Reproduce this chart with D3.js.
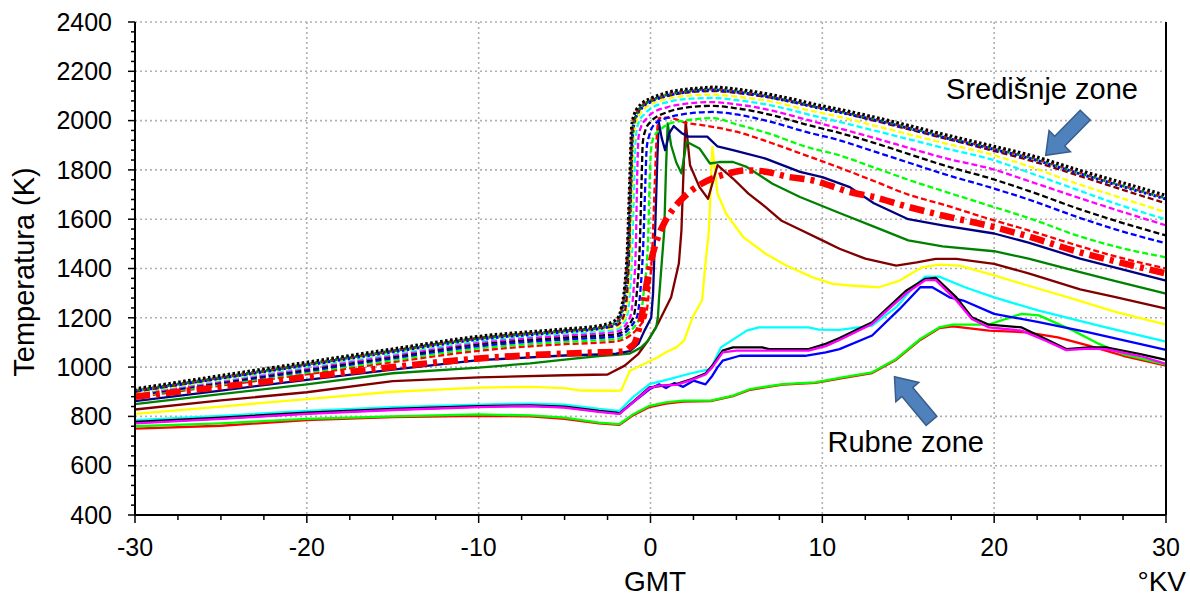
<!DOCTYPE html>
<html><head><meta charset="utf-8">
<script src="https://cdn.jsdelivr.net/npm/d3@7"></script>
<style>body{margin:0;background:#fff}svg{display:block}text{font-family:Arial,"Liberation Sans",sans-serif}</style>
</head><body><svg id="c" width="1190" height="596"></svg>
<script>
const xTicks=[-30,-20,-10,0,10,20,30];
const yTicks=[400,600,800,1000,1200,1400,1600,1800,2000,2200,2400];
const xLabel="GMT", xUnit="°KV", yLabel="Temperatura (K)";
const labelCentral="Središnje zone", labelEdge="Rubne zone";

// Central zones – dotted
const dotBlack=[[-30,912],[-25,966],[-20,1020],[-15,1074],[-10,1125],[-5,1155],[-3,1168],[-2,1192],[-1.7,1240],[-1.5,1330],[-1.35,1480],[-1.2,1780],[-1.1,1975],[-0.95,2025],[-0.5,2070],[0,2090],[0.5,2104],[1,2115],[2,2127],[3,2133],[3.6,2136],[5,2128],[6.7,2110],[8,2092],[10,2060],[11,2046],[13,2015],[15,1981],[17,1946],[20,1896],[22,1862],[25,1798],[27,1758],[30,1697]];
const dotRed=[[-30,908],[-25,962],[-20,1016],[-15,1070],[-10,1121],[-5,1151],[-3,1164],[-2,1186],[-1.7,1230],[-1.5,1310],[-1.35,1450],[-1.2,1730],[-1.1,1950],[-0.95,2015],[-0.5,2064],[0,2085],[1,2110],[2,2123],[3.6,2132],[5,2124],[6.7,2106],[8,2088],[10,2056],[11,2042],[13,2011],[15,1977],[17,1941],[20,1891],[22,1857],[25,1792],[27,1751],[30,1690]];
const dotGreen=[[-30,905],[-25,958],[-20,1012],[-15,1066],[-10,1117],[-5,1147],[-3,1160],[-2,1180],[-1.7,1222],[-1.5,1295],[-1.3,1470],[-1.15,1760],[-1.05,1950],[-0.9,2010],[-0.5,2058],[0,2080],[1,2106],[2,2119],[3.6,2128],[5,2120],[6.7,2102],[8,2084],[10,2052],[11,2038],[13,2007],[15,1973],[17,1937],[20,1887],[22,1852],[25,1788],[27,1746],[30,1686]];
const dotBlue=[[-30,903],[-25,955],[-20,1008],[-15,1062],[-10,1113],[-5,1143],[-3,1156],[-2,1175],[-1.7,1215],[-1.5,1280],[-1.3,1440],[-1.15,1720],[-1.05,1935],[-0.9,2003],[-0.5,2052],[0,2076],[1,2102],[2,2115],[3.6,2124],[5,2116],[6.7,2098],[8,2080],[10,2048],[11,2034],[13,2003],[15,1969],[17,1933],[20,1883],[22,1848],[25,1784],[27,1742],[30,1682]];

// Central zones – dashed
const dashMaroon=[[-30,900],[-25,955],[-20,1010],[-15,1066],[-10,1118],[-5,1148],[-3,1158],[-2,1168],[-1.6,1200],[-1.4,1270],[-1.25,1450],[-1.15,1700],[-1.05,1960],[-0.9,2010],[-0.5,2055],[0,2078],[1,2100],[2,2113],[3.6,2120],[5,2112],[7,2093],[9,2064],[11,2035],[13,2000],[15,1965],[17,1930],[20,1877],[22,1840],[25,1775],[27,1730],[30,1664]];
const dashYellow=[[-30,897],[-25,951],[-20,1006],[-15,1060],[-10,1112],[-5,1142],[-3,1152],[-2,1160],[-1.5,1200],[-1.3,1290],[-1.15,1480],[-1.05,1750],[-0.95,1950],[-0.8,2000],[-0.4,2045],[0,2065],[1,2088],[2,2100],[3.6,2105],[5,2097],[7,2078],[9,2045],[11,2015],[13,1980],[15,1945],[17,1910],[20,1859],[22,1815],[25,1740],[27,1695],[30,1628]];
const dashCyan=[[-30,894],[-25,947],[-20,1001],[-15,1054],[-10,1106],[-5,1136],[-3,1145],[-2,1152],[-1.4,1200],[-1.2,1300],[-1.05,1500],[-0.95,1760],[-0.85,1940],[-0.7,1990],[-0.3,2030],[0,2048],[1,2075],[2,2087],[3.6,2092],[5,2083],[7,2062],[9,2028],[11,1995],[13,1960],[15,1925],[17,1890],[20,1839],[22,1790],[25,1715],[27,1665],[30,1599]];
const dashMagenta=[[-30,891],[-25,943],[-20,996],[-15,1048],[-10,1100],[-5,1128],[-3,1137],[-2,1143],[-1.2,1200],[-1.0,1300],[-0.85,1500],[-0.78,1760],[-0.7,1930],[-0.55,1975],[-0.2,2010],[0,2025],[1,2055],[2,2068],[3.6,2075],[5,2066],[7,2042],[9,2005],[11,1968],[13,1930],[15,1890],[17,1850],[20,1801],[22,1755],[25,1685],[27,1640],[30,1575]];
const dashBlack=[[-30,888],[-25,939],[-20,990],[-15,1042],[-10,1093],[-5,1120],[-3,1128],[-2,1133],[-1.0,1200],[-0.8,1300],[-0.62,1500],[-0.52,1750],[-0.45,1910],[-0.3,1960],[0,1995],[1,2035],[2,2052],[3.6,2060],[5,2050],[7,2023],[9,1985],[11,1950],[13,1910],[15,1865],[17,1820],[20,1761],[22,1715],[25,1640],[27,1595],[30,1534]];
const dashBlue=[[-30,885],[-25,935],[-20,984],[-15,1036],[-10,1085],[-5,1112],[-3,1119],[-2,1124],[-0.8,1200],[-0.6,1300],[-0.42,1500],[-0.3,1750],[-0.22,1890],[-0.05,1945],[0.3,1990],[1,2012],[2,2027],[3.6,2035],[5,2025],[7,1995],[9,1955],[11,1920],[13,1875],[15,1830],[17,1785],[20,1724],[22,1680],[25,1605],[27,1560],[30,1502]];
const dashGreen=[[-30,882],[-25,930],[-20,978],[-15,1028],[-10,1076],[-5,1102],[-3,1109],[-2,1113],[-0.6,1200],[-0.4,1300],[-0.15,1500],[-0.05,1750],[0.03,1880],[0.2,1935],[0.6,1965],[1,1985],[2,2000],[3.6,2010],[5,1985],[7,1945],[9,1895],[11,1859],[13,1810],[15,1760],[17,1715],[20,1649],[22,1605],[25,1530],[27,1490],[30,1445]];
const dashRed=[[-30,878],[-25,925],[-20,971],[-15,1020],[-10,1066],[-5,1093],[-3,1099],[-2,1104],[-0.3,1200],[-0.1,1300],[0.12,1500],[0.25,1750],[0.35,1920],[0.5,2010],[1,2012],[1.5,2005],[2,1992],[3,1982],[3.6,1975],[5,1955],[7,1910],[9,1860],[11,1809],[13,1755],[15,1700],[17,1660],[20,1595],[22,1555],[25,1490],[27,1450],[30,1400]];

// thick red dash-dot
const thickRed=[[-30,880],[-25,920],[-20,960],[-15,1000],[-10,1035],[-5,1055],[-3,1060],[-2,1062],[-1.5,1065],[-1.2,1080],[-0.9,1100],[-0.7,1148],[-0.5,1210],[-0.35,1283],[0,1420],[0.45,1530],[0.8,1585],[1.2,1630],[1.6,1665],[2.4,1717],[3,1745],[3.6,1765],[4.5,1785],[5.5,1798],[6.5,1795],[8,1772],[9.4,1758],[10.5,1735],[11.5,1712],[13,1690],[15,1650],[17,1615],[20,1568],[22,1530],[25,1465],[27,1430],[30,1380]];

// solid inner lines
const solidNavy=[[-30,862],[-25,905],[-20,948],[-15,990],[-10,1028],[-5,1047],[-3,1052],[-2,1055],[-1.2,1065],[-0.7,1095],[-0.35,1148],[0.04,1200],[0.15,1300],[0.27,1554],[0.4,1850],[0.48,1995],[0.65,1930],[0.85,1880],[1.1,1950],[1.35,1978],[1.8,1950],[2.2,1935],[3.3,1935],[3.9,1895],[4.8,1880],[6.7,1846],[8.7,1792],[10,1771],[11.6,1730],[13,1665],[15,1600],[17,1575],[20,1542],[22,1505],[25,1440],[27,1405],[30,1351]];
const solidGreen=[[-30,850],[-25,890],[-20,930],[-15,975],[-10,998],[-7,1015],[-5,1030],[-3,1045],[-2,1050],[-1.2,1055],[-0.54,1080],[-0.15,1107],[0.33,1161],[0.43,1202],[0.5,1283],[0.65,1420],[0.8,1554],[0.9,1800],[1.0,1989],[1.2,1900],[1.5,1830],[1.8,1786],[2.1,1914],[2.85,1887],[3.46,1826],[4.0,1832],[4.8,1832],[5.6,1812],[7.1,1744],[8.7,1690],[11,1625],[13,1570],[15,1514],[17,1490],[20,1470],[22,1440],[25,1385],[27,1350],[30,1298]];
const solidMaroon=[[-30,828],[-25,865],[-20,898],[-15,943],[-10,958],[-5,967],[-2.5,970],[-1.5,1006],[-0.7,1054],[-0.15,1107],[0.43,1176],[1.2,1283],[1.65,1420],[1.8,1554],[1.95,1850],[2.05,1995],[2.3,1819],[2.85,1730],[3.35,1683],[3.9,1819],[4.8,1765],[5.7,1704],[6.7,1649],[7.6,1595],[8.6,1561],[10,1514],[11,1480],[12.5,1440],[14.3,1412],[15.5,1425],[16.6,1439],[17.8,1439],[20,1419],[22,1380],[25,1315],[27,1285],[30,1237]];
const solidYellow=[[-30,810],[-25,840],[-20,870],[-15,900],[-10,917],[-7,920],[-5,915],[-4,905],[-2,904],[-1.7,906],[-1.2,985],[0.43,1040],[0.9,1060],[1.5,1080],[1.95,1107],[2.45,1202],[3.0,1270],[3.2,1420],[3.4,1554],[3.6,1893],[3.9,1704],[4.4,1622],[5.4,1527],[6.7,1460],[7.9,1412],[9.4,1365],[10.6,1338],[11.6,1331],[13.3,1324],[14.5,1351],[15.8,1405],[16.8,1416],[18,1412],[20,1372],[22,1330],[24.6,1277],[27,1225],[30,1172]];

// edge zones
const edgeCyan=[[-30,785],[-25,802],[-20,822],[-15,838],[-10,848],[-7,852],[-5,848],[-3,830],[-2,823],[-1.8,823],[-1.03,877],[-0.06,931],[1.1,951],[2.2,972],[3.2,988],[3.5,992],[4.1,1080],[5.6,1148],[6.3,1161],[9.2,1161],[9.8,1152],[11,1151],[12.9,1168],[14.3,1243],[15.3,1324],[16,1367],[16.8,1367],[18.3,1324],[20,1283],[22.6,1229],[26.5,1161],[30,1103]];
const edgeBlack=[[-30,778],[-25,795],[-20,815],[-15,830],[-10,842],[-7,845],[-5,840],[-3,822],[-2,815],[-1.8,812],[-1,860],[-0.06,918],[1.5,931],[2.4,951],[3.2,974],[3.6,1006],[4.2,1067],[4.8,1080],[6.5,1080],[6.9,1073],[9.2,1073],[10.2,1094],[11,1118],[12.9,1182],[14.9,1311],[16,1358],[16.6,1362],[17.8,1283],[18.7,1202],[19.7,1172],[21.6,1161],[23,1114],[24.2,1073],[25.5,1080],[26.5,1080],[28.5,1053],[30,1029]];
const edgeMagenta=[[-30,772],[-25,790],[-20,810],[-15,826],[-10,838],[-7,842],[-5,836],[-3,818],[-2,811],[-1.8,810],[-1,858],[-0.06,915],[0.5,925],[1.5,928],[2.4,948],[3.2,970],[3.6,1000],[4.2,1060],[5,1067],[9.2,1067],[10.2,1085],[11,1110],[12.9,1175],[14.9,1300],[16,1353],[16.6,1353],[17.8,1270],[18.7,1195],[19.7,1161],[21.6,1148],[23,1107],[24.2,1069],[25.5,1075],[26.5,1073],[28.5,1045],[30,1013]];
const edgeBlue=[[-30,775],[-25,792],[-20,812],[-15,828],[-10,840],[-7,843],[-5,838],[-3,820],[-2,813],[-1.8,812],[-1,858],[-0.06,910],[0.5,930],[0.9,915],[1.4,935],[1.9,920],[2.5,945],[3.2,930],[3.6,965],[3.9,999],[4.2,1026],[5.2,1046],[9,1046],[10.2,1060],[11,1073],[12.9,1128],[14.5,1236],[15.7,1324],[16.4,1324],[17.4,1283],[18.2,1270],[20,1216],[22.6,1182],[25.5,1141],[30,1070]];
const edgeGreen=[[-30,760],[-25,772],[-20,790],[-15,800],[-10,808],[-7,804],[-5,795],[-3,775],[-2,770],[-1.8,769],[-1,809],[-0.06,843],[0.9,857],[1.9,864],[3.5,864],[4.8,884],[5.8,911],[7.7,931],[9.6,938],[11,956],[12.9,979],[14.3,1033],[15.7,1114],[16.8,1161],[17.6,1172],[19.7,1172],[20.7,1196],[21.6,1216],[22.6,1210],[24.6,1148],[26.1,1094],[27.5,1053],[30,1010]];
const edgeRed=[[-30,750],[-25,762],[-20,785],[-15,797],[-10,802],[-7,800],[-5,790],[-3,772],[-2,767],[-1.8,766],[-1,805],[-0.06,838],[0.9,852],[1.9,860],[3.5,862],[4.8,882],[5.8,908],[7.7,929],[9.6,936],[11,953],[12.9,976],[14.3,1030],[15.7,1110],[16.8,1158],[17.6,1165],[19.7,1148],[21.9,1141],[23.7,1121],[25.5,1087],[27.5,1046],[30,1006]];

// annotation anchors (data units)
const arrowCentral=[[25.3,2022],[23.0,1859]];
const arrowEdge=[[16.35,782],[14.2,961]];
const textCentralPos=[17.2,2087];
const textEdgePos=[10.3,656];

const svg=d3.select("#c");
const x=d3.scaleLinear().domain([-30,30]).range([135,1166]);
const y=d3.scaleLinear().domain([400,2400]).range([515,22]);

// grid
const grid=svg.append("g").attr("stroke","#b0b0b0").attr("stroke-width",1.6).attr("stroke-dasharray","2,3");
grid.selectAll(".gx").data(xTicks.slice(1,-1)).join("line").attr("x1",d=>x(d)).attr("x2",d=>x(d)).attr("y1",y(2400)).attr("y2",y(400));
grid.selectAll(".gy").data(yTicks.slice(1)).join("line").attr("y1",d=>y(d)).attr("y2",d=>y(d)).attr("x1",x(-30)).attr("x2",x(30));

const line=d3.line().x(d=>x(d[0])).y(d=>y(d[1]));
const lineM=d3.line().x(d=>x(d[0])).y(d=>y(d[1])).curve(d3.curveMonotoneX);
const plot=svg.append("g");
function draw(data,color,w,dash,gen,off){
  plot.append("path").attr("d",(gen||line)(data)).attr("fill","none").attr("stroke",color)
   .attr("stroke-width",w).attr("stroke-dasharray",dash||null).attr("stroke-dashoffset",off||0).attr("stroke-linejoin","round");
}
const sw=2.3;
draw(edgeRed,"#ff0000",sw);
draw(edgeGreen,"#00ff00",sw);
draw(edgeBlue,"#0000ff",sw);
draw(edgeCyan,"#00ffff",sw);
draw(edgeBlack,"#000000",sw);
draw(edgeMagenta,"#ff00ff",sw);
draw(solidYellow,"#ffff00",sw);
draw(solidMaroon,"#800000",sw);
draw(solidGreen,"#008000",sw);
draw(solidNavy,"#000080",sw);
draw(dashRed,"#ff0000",sw,"6,3",lineM);
draw(dashGreen,"#00ff00",sw,"6,3",lineM);
draw(dashBlue,"#0000ff",sw,"6,3",lineM);
draw(dashBlack,"#000000",sw,"6,3",lineM);
draw(dashMagenta,"#ff00ff",sw,"6,3",lineM);
draw(dashCyan,"#00ffff",sw,"6,3",lineM);
draw(dashYellow,"#ffff00",sw,"6,3",lineM);
draw(dashMaroon,"#800000",sw,"6,3",lineM);
draw(thickRed,"#ff0000",6.5,"15,6,4,6",lineM);
draw(dotBlue,"#0000ff",3,"2.5,2.5",lineM,0);
draw(dotGreen,"#008000",3,"2.5,2.5",lineM,2.5);
draw(dotRed,"#ff0000",3,"2.5,7.5",lineM,1.2);
draw(dotBlack,"#000000",3,"2.5,2.5",lineM,1.2);

// axes
const ax=svg.append("g").attr("stroke","#000");
ax.append("line").attr("x1",x(-30)).attr("x2",x(-30)).attr("y1",y(2400)).attr("y2",y(400)).attr("stroke-width",2);
ax.append("line").attr("x1",x(30)).attr("x2",x(30)).attr("y1",y(2400)).attr("y2",y(400)).attr("stroke-width",2);
ax.append("line").attr("x1",x(-30)).attr("x2",x(30)).attr("y1",y(400)).attr("y2",y(400)).attr("stroke-width",2);
const yMinor=d3.range(400,2401,40), xMinor=d3.range(-30,30.01,2.5);
ax.selectAll(".ym").data(yMinor).join("line").attr("x1",x(-30)).attr("x2",d=>x(-30)-(d%200===0?7:4)).attr("y1",d=>y(d)).attr("y2",d=>y(d)).attr("stroke-width",1.5);
ax.selectAll(".xm").data(xMinor).join("line").attr("y1",y(400)).attr("y2",d=>y(400)+(d%10===0?8:5)).attr("x1",d=>x(d)).attr("x2",d=>x(d)).attr("stroke-width",1.5);

const fs=25;
svg.append("g").selectAll("text").data(yTicks).join("text").attr("x",112).attr("y",d=>y(d)).attr("dy","0.35em")
  .attr("text-anchor","end").attr("font-size",fs).text(d=>d);
svg.append("g").selectAll("text").data(xTicks).join("text").attr("x",d=>x(d)).attr("y",556)
  .attr("text-anchor","middle").attr("font-size",fs).text(d=>d);
svg.append("text").attr("x",655).attr("y",591).attr("text-anchor","middle").attr("font-size",28).text(xLabel);
svg.append("text").attr("x",1186).attr("y",591).attr("text-anchor","end").attr("font-size",28).text(xUnit);
svg.append("text").attr("transform","translate(34,272) rotate(-90)").attr("text-anchor","middle").attr("font-size",29).text(yLabel);

svg.append("text").attr("x",x(textCentralPos[0])).attr("y",y(textCentralPos[1])).attr("font-size",29).text(labelCentral);
svg.append("text").attr("x",x(textEdgePos[0])).attr("y",y(textEdgePos[1])).attr("font-size",29).text(labelEdge);

function arrow(a){
  const [sx,sy]=[x(a[0][0]),y(a[0][1])],[tx,ty]=[x(a[1][0]),y(a[1][1])];
  const dx=tx-sx,dy=ty-sy,L=Math.hypot(dx,dy),ux=dx/L,uy=dy/L,px=-uy,py=ux;
  const sw=7,hw=15,hl=20,bx=tx-ux*hl,by=ty-uy*hl;
  const pts=[[sx+px*sw,sy+py*sw],[bx+px*sw,by+py*sw],[bx+px*hw,by+py*hw],[tx,ty],[bx-px*hw,by-py*hw],[bx-px*sw,by-py*sw],[sx-px*sw,sy-py*sw]];
  svg.append("polygon").attr("points",pts.map(p=>p.join(",")).join(" ")).attr("fill","#4f81bd").attr("stroke","#385d8a").attr("stroke-width",1.5);
}
arrow(arrowCentral);arrow(arrowEdge);
</script></body></html>
